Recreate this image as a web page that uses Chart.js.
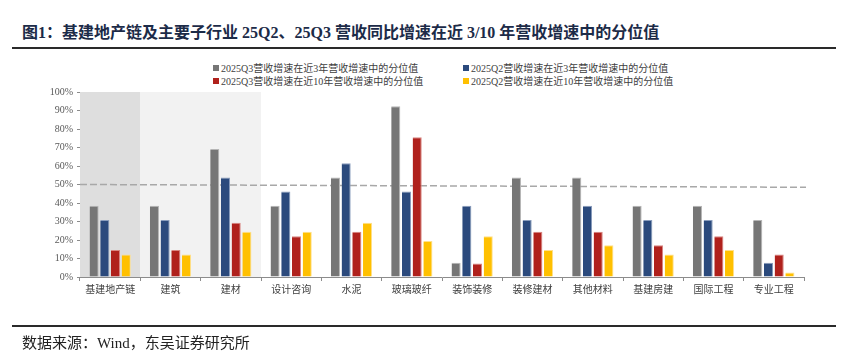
<!DOCTYPE html>
<html>
<head>
<meta charset="utf-8">
<script src="https://cdn.jsdelivr.net/npm/chart.js@4"></script>
<style>
  body { margin: 0; background: #fff; width: 868px; height: 361px; position: relative; overflow: hidden;
         font-family: 'Liberation Serif', 'Noto Sans CJK SC', serif; }
  #title { position: absolute; left: 22px; top: 19px; font-size: 16px; font-weight: bold; color: #1c2b48; white-space: nowrap; }
  .rule { position: absolute; left: 12px; width: 824px; height: 2px; background: #2a2a2a; }
  #footer { position: absolute; left: 22px; top: 331px; font-size: 15px; color: #222; white-space: nowrap; }
  .leg { position: absolute; font-size: 10px; color: #404040; white-space: nowrap; line-height: 12px; }
  .leg i { display: inline-block; width: 6px; height: 6px; margin-right: 2px; vertical-align: 1px; }
  canvas { position: absolute; left: 0; top: 0; }
</style>
</head>
<body>
<div id="title">图1：基建地产链及主要子行业 25Q2、25Q3 营收同比增速在近 3/10 年营收增速中的分位值</div>
<div class="rule" style="top:47px"></div>
<div id="legend"></div>
<canvas id="chart" width="868" height="361"></canvas>
<div class="rule" style="top:325px"></div>
<div id="footer">数据来源：Wind，东吴证券研究所</div>

<script>
const categories = ['基建地产链', '建筑', '建材', '设计咨询', '水泥', '玻璃玻纤', '装饰装修', '装修建材', '其他材料', '基建房建', '国际工程', '专业工程'];

// percentile values, %
const q3Near3y  = [38.5, 38.5, 69.2, 38.5, 53.8, 92.3, 7.7, 53.8, 53.8, 38.5, 38.5, 30.8];
const q2Near3y  = [30.8, 30.8, 53.8, 46.2, 61.5, 46.2, 38.5, 30.8, 38.5, 30.8, 30.8, 7.7];
const q3Near10y = [14.6, 14.6, 29.3, 22.0, 24.4, 75.6, 7.3, 24.4, 24.4, 17.1, 22.0, 12.2];
const q2Near10y = [12.2, 12.2, 24.4, 24.4, 29.3, 19.5, 22.0, 14.6, 17.1, 12.2, 14.6, 2.4];

// reference dashed line (value at left edge / right edge)
const refLine = [50, 48.5];

const seriesNames = [
  '2025Q3营收增速在近3年营收增速中的分位值',
  '2025Q2营收增速在近3年营收增速中的分位值',
  '2025Q3营收增速在近10年营收增速中的分位值',
  '2025Q2营收增速在近10年营收增速中的分位值'
];
const colors = ['#767676', '#2b4a7d', '#b0211c', '#ffc000'];
const edgeColors = ['#b5b5b5', '#8a9dbd', '#d98580', '#ffe08a'];

// shaded background bands: [first category, last category, colour]
const bands = [[0, 0, '#dedede'], [1, 2, '#f2f2f2']];

const FONT = "'Liberation Serif', 'Noto Sans CJK SC', serif";

// html legend, two columns
const legendPos = [[213, 63], [463, 63], [213, 76], [463, 76]];
const legendEl = document.getElementById('legend');
seriesNames.forEach((name, i) => {
  const d = document.createElement('div');
  d.className = 'leg';
  d.style.left = legendPos[i][0] + 'px';
  d.style.top = legendPos[i][1] + 'px';
  d.innerHTML = '<i style="background:' + colors[i] + '"></i>' + name;
  legendEl.appendChild(d);
});

// background bands + dashed reference line, under the bars
const backdropPlugin = {
  id: 'backdrop',
  beforeDatasetsDraw(chart) {
    const { ctx, chartArea, scales } = chart;
    const x = scales.x, y = scales.y;
    const step = (x.right - x.left) / categories.length;
    ctx.save();
    bands.forEach(([from, to, col]) => {
      ctx.fillStyle = col;
      ctx.fillRect(x.left + from * step, chartArea.top, (to - from + 1) * step, chartArea.bottom - chartArea.top);
    });
    ctx.strokeStyle = '#a8a8a8';
    ctx.lineWidth = 1.5;
    ctx.setLineDash([7, 3]);
    ctx.beginPath();
    ctx.moveTo(chartArea.left, y.getPixelForValue(refLine[0]));
    ctx.lineTo(chartArea.right + 2, y.getPixelForValue(refLine[1]));
    ctx.stroke();
    ctx.restore();
  }
};

const barData = [q3Near3y, q2Near3y, q3Near10y, q2Near10y];

new Chart(document.getElementById('chart'), {
  type: 'bar',
  data: {
    labels: categories,
    datasets: barData.map((vals, i) => ({
      label: seriesNames[i],
      data: vals,
      backgroundColor: colors[i],
      borderColor: edgeColors[i],
      borderWidth: { top: 1, left: 0, right: 1, bottom: 0 },
      borderSkipped: 'bottom',
      categoryPercentage: 0.71,
      barPercentage: 0.85
    }))
  },
  options: {
    responsive: false,
    animation: false,
    devicePixelRatio: 1,
    layout: { padding: { left: 0, right: 64, top: 92, bottom: 54 } },
    plugins: { legend: { display: false }, tooltip: { enabled: false } },
    scales: {
      x: {
        grid: { display: true, drawOnChartArea: false, drawTicks: true, tickLength: 4, color: '#8c8c8c', offset: true },
        border: { color: '#8c8c8c' },
        ticks: { color: '#404040', font: { size: 10, family: FONT }, padding: 3, maxRotation: 0, autoSkip: false },
        afterFit(s) { s.height = 30; }
      },
      y: {
        min: 0,
        max: 100,
        ticks: { stepSize: 10, callback: v => v + '%', color: '#595959', font: { size: 10, family: FONT }, padding: 4 },
        grid: { drawOnChartArea: false, tickLength: 3, color: '#8c8c8c' },
        border: { color: '#8c8c8c' },
        afterFit(s) { s.width = 80; }
      }
    }
  },
  plugins: [backdropPlugin]
});
</script>
</body>
</html>
